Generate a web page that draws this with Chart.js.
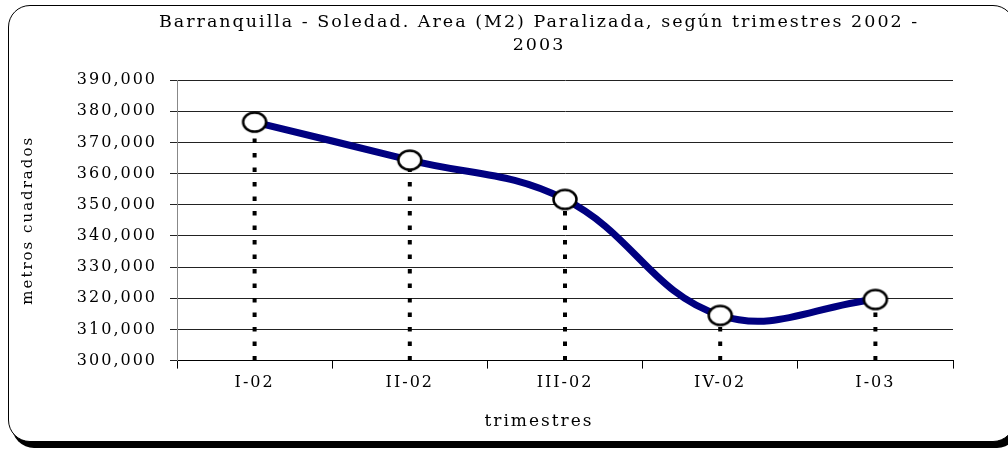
<!DOCTYPE html>
<html><head><meta charset="utf-8">
<script src="https://cdn.jsdelivr.net/npm/chart.js@4.4.1/dist/chart.umd.min.js"></script>
<style>
html,body{margin:0;padding:0;background:#fff;overflow:hidden;width:1008px;height:449px;}
#frame{position:absolute;left:8px;top:5px;width:1005px;height:435px;border:1.5px solid #000;border-radius:22px;box-shadow:4px 6px 0 #000;background:#fff;}
#wrap{position:absolute;left:0;top:0;width:1078px;height:449px;}
</style></head><body>
<div id="frame"></div>
<div id="wrap"><canvas id="c"></canvas></div>
<script>
// ---- data ----
const titleLines = ['Barranquilla - Soledad. Area (M2) Paralizada, según trimestres 2002 -', '2003'];
const yAxisTitle = 'metros cuadrados';
const xAxisTitle = 'trimestres';
const categories = ['I-02', 'II-02', 'III-02', 'IV-02', 'I-03'];
const areaParalizada = [376500, 364300, 351700, 314500, 319600];
const yMin = 300000, yMax = 390000, yStep = 10000;

const FONT = 'DejaVu Serif';

function makeMarker() {
  const c = document.createElement('canvas');
  c.width = 28; c.height = 24;
  const g = c.getContext('2d');
  g.beginPath();
  g.ellipse(14, 12, 11.5, 9.5, 0, 0, Math.PI * 2);
  g.fillStyle = '#fff'; g.fill();
  g.lineWidth = 2.5; g.strokeStyle = '#000'; g.stroke();
  return c;
}

const spacing = {
  id: 'spacing',
  beforeLayout(ch) { ch.ctx.letterSpacing = '2px'; },
  beforeDraw(ch) { ch.ctx.letterSpacing = '2px'; }
};

const dropLines = {
  id: 'dropLines',
  beforeDatasetsDraw(ch) {
    const ctx = ch.ctx;
    const meta = ch.getDatasetMeta(0);
    const bottom = ch.scales.y.getPixelForValue(yMin);
    ctx.save();
    ctx.setLineDash([4.5, 10]);
    ctx.lineWidth = 4;
    ctx.strokeStyle = '#000';
    meta.data.forEach(p => {
      ctx.beginPath();
      ctx.moveTo(p.x, bottom);
      ctx.lineTo(p.x, p.y);
      ctx.stroke();
    });
    ctx.restore();
  }
};

new Chart(document.getElementById('c'), {
  type: 'line',
  data: {
    labels: categories,
    datasets: [{
      data: areaParalizada,
      borderColor: '#000080',
      borderWidth: 7,
      tension: 0.4,
      pointStyle: makeMarker(),
      pointRadius: 11,
      fill: false
    }]
  },
  plugins: [spacing, dropLines],
  options: {
    responsive: true,
    maintainAspectRatio: false,
    animation: false,
    devicePixelRatio: 1,
    events: [],
    layout: { padding: 0 },
    plugins: {
      legend: { display: false },
      tooltip: { enabled: false },
      title: {
        display: true, text: titleLines, color: '#000',
        font: { family: FONT, size: 17.5, weight: 'normal', lineHeight: 1.32 },
        padding: { top: 10.5, bottom: 23.3 }
      },
      subtitle: {
        display: true, position: 'bottom', text: xAxisTitle, color: '#000',
        font: { family: FONT, size: 17, weight: 'normal', lineHeight: 1.2 },
        padding: { top: 14, bottom: 16.8 }
      }
    },
    scales: {
      x: {
        type: 'category', offset: true,
        grid: { display: true, drawOnChartArea: false, drawTicks: true, tickLength: 8, color: '#000', offset: true },
        border: { display: true, color: '#000', width: 1 },
        ticks: { font: { family: FONT, size: 16 }, color: '#000', padding: 5, maxRotation: 0 }
      },
      y: {
        position: 'left', min: yMin, max: yMax,
        grid: { color: '#222', tickLength: 7 },
        border: { display: true, color: '#888', width: 1 },
        ticks: {
          stepSize: yStep, font: { family: FONT, size: 16 }, color: '#000', padding: 13,
          callback: v => v.toLocaleString('en-US')
        },
        title: { display: true, text: yAxisTitle, color: '#000', font: { family: FONT, size: 15 }, padding: { top: 19, bottom: 0 } },
        afterFit(s) { s.width = 177; }
      },
      yRight: {
        position: 'right', display: true,
        grid: { display: false }, border: { display: false }, ticks: { display: false },
        afterFit(s) { s.width = 125; }
      }
    }
  }
});
</script>
</body></html>
